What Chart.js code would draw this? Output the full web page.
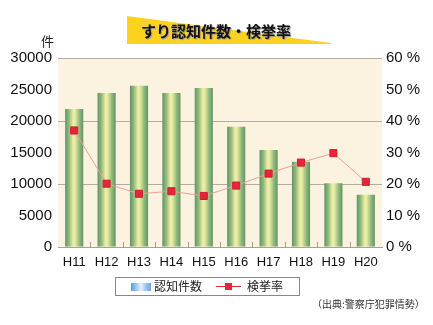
<!DOCTYPE html>
<html>
<head>
<meta charset="utf-8">
<script src="https://cdn.jsdelivr.net/npm/chart.js@4"></script>
<style>
  body { margin: 0; background: #fff; }
  #wrap { position: relative; width: 433px; height: 325px; overflow: hidden; }
  #c { position: absolute; left: 0; top: 0; }
  .jp { font-family: "Noto Sans CJK JP", sans-serif; position: absolute; white-space: nowrap; }
  #banner { position: absolute; left: 127px; top: 16px; width: 204px; height: 28px;
    background: #fcd21e; clip-path: polygon(0 0, 100% 96%, 100% 100%, 0 100%); }
  #title { left: 141px; top: 20px; font-size: 15px; font-weight: bold; color: #111;
    text-shadow: 1px 1px 1px #999; letter-spacing: 0px; }
  #unit { left: 41px; top: 31px; font-size: 13px; color: #222; }
  #legend { position: absolute; left: 115px; top: 277px; width: 183px; height: 17px; border: 1px solid #888; }
  #swatch { position: absolute; left: 15px; top: 5px; width: 20px; height: 8px;
    background: linear-gradient(to right, #5a9be0, #9cc4ee, #e6f0fa, #9cc4ee, #6aa6e6); }
  #lg1 { left: 38px; top: -1px; font-size: 12px; color: #222; }
  #lgline { position: absolute; left: 100px; top: 8px; width: 25px; height: 1px; background: #e8243c; }
  #lgsq { position: absolute; left: 109px; top: 5px; width: 7px; height: 7px; background: #e8243c; }
  #lg2 { left: 131px; top: -1px; font-size: 12px; color: #222; }
  #src { left: 312px; top: 296px; font-size: 10px; color: #333; }
</style>
</head>
<body>
<div id="wrap">
  <canvas id="c" width="433" height="325"></canvas>
  <div id="banner"></div>
  <div class="jp" id="title">すり認知件数・検挙率</div>
  <div class="jp" id="unit">件</div>
  <div id="legend">
    <div id="swatch"></div>
    <div class="jp" id="lg1">認知件数</div>
    <div id="lgline"></div>
    <div id="lgsq"></div>
    <div class="jp" id="lg2">検挙率</div>
  </div>
  <div class="jp" id="src">（出典:警察庁犯罪情勢）</div>
</div>
<script>
const years = ['H11', 'H12', 'H13', 'H14', 'H15', 'H16', 'H17', 'H18', 'H19', 'H20'];
const cases = [21900, 24450, 25600, 24450, 25250, 19100, 15400, 13550, 10100, 8300];
const arrestRate = [37.0, 20.1, 16.9, 17.7, 16.2, 19.5, 23.3, 26.8, 29.8, 20.7];
const leftTicks = { max: 30000, step: 5000 };
const rightTicks = { max: 60, step: 10 };

function barFill(ctx) {
    const chart = ctx.chart;
    const xs = chart.scales.x;
    if (!xs || ctx.dataIndex === undefined) return '#8fb878';
    const cx = xs.getPixelForValue(ctx.dataIndex);
    const w = (xs.width / years.length) * 0.56;
    if (!isFinite(cx) || !isFinite(w) || w <= 0) return '#8fb878';
    const g = chart.ctx.createLinearGradient(cx - w / 2, 0, cx + w / 2, 0);
    g.addColorStop(0, '#5f9468');
    g.addColorStop(0.22, '#94ba7c');
    g.addColorStop(0.45, '#eef0a8');
    g.addColorStop(0.55, '#e6eba0');
    g.addColorStop(0.78, '#94ba7c');
    g.addColorStop(1, '#5f9468');
    return g;
}

const plotBg = {
    id: 'plotBg',
    beforeDraw(chart) {
        const a = chart.chartArea, c = chart.ctx;
        c.save();
        c.fillStyle = '#fbf2df';
        c.fillRect(a.left, a.top, a.right - a.left, a.bottom - a.top);
        c.restore();
    },
    afterDatasetsDraw(chart) {
        // small category dividers standing on the x axis
        const a = chart.chartArea, c = chart.ctx, xs = chart.scales.x;
        const step = xs.width / years.length;
        c.save();
        c.strokeStyle = '#a8a098';
        c.lineWidth = 1;
        for (let i = 1; i < years.length; i++) {
            const x = Math.round(xs.left + step * i) + 0.5;
            c.beginPath();
            c.moveTo(x, a.bottom - 5);
            c.lineTo(x, a.bottom);
            c.stroke();
        }
        c.restore();
    }
};

const chart = new Chart(document.getElementById('c'), {
    data: {
        labels: years,
        datasets: [
            {
                type: 'line', label: '検挙率', data: arrestRate, yAxisID: 'y2', order: 0,
                borderColor: '#f0a090', borderWidth: 1, tension: 0,
                pointStyle: 'rect', pointRadius: 5, pointBackgroundColor: '#e8243c',
                pointBorderColor: '#d01c30', pointBorderWidth: 1
            },
            {
                type: 'bar', label: '認知件数', data: cases, yAxisID: 'y', order: 1,
                backgroundColor: barFill, barPercentage: 0.56, categoryPercentage: 1
            }
        ]
    },
    options: {
        responsive: false,
        animation: false,
        layout: { padding: { top: 58, left: 0, right: 0, bottom: 0 } },
        plugins: { legend: { display: false }, tooltip: { enabled: false } },
        scales: {
            x: {
                grid: { display: false, drawTicks: false },
                border: { display: true, color: '#a8a098', width: 1 },
                ticks: { padding: 8, color: '#111', font: { family: 'Liberation Sans', size: 13 } },
                afterFit(s) { s.height = 78; }
            },
            y: {
                position: 'left', min: 0, max: leftTicks.max,
                ticks: { stepSize: leftTicks.step, padding: 6, color: '#111',
                    font: { family: 'Liberation Sans', size: 15 }, callback: v => String(v) },
                grid: {
                    drawTicks: false,
                    color: c => (c.tick && c.tick.value % 10000 === 0 && c.tick.value > 0) ? '#b4aca4' : 'rgba(0,0,0,0)'
                },
                border: { display: false },
                afterFit(s) { s.width = 58; }
            },
            y2: {
                position: 'right', min: 0, max: rightTicks.max,
                ticks: { stepSize: rightTicks.step, padding: 4, color: '#111',
                    font: { family: 'Liberation Sans', size: 15 }, callback: v => v + ' %' },
                grid: { display: false, drawTicks: false },
                border: { display: false },
                afterFit(s) { s.width = 51; }
            }
        }
    },
    plugins: [plotBg]
});
// gradients depend on the laid-out scale, so resolve them again
chart.update('none');
</script>
</body>
</html>
